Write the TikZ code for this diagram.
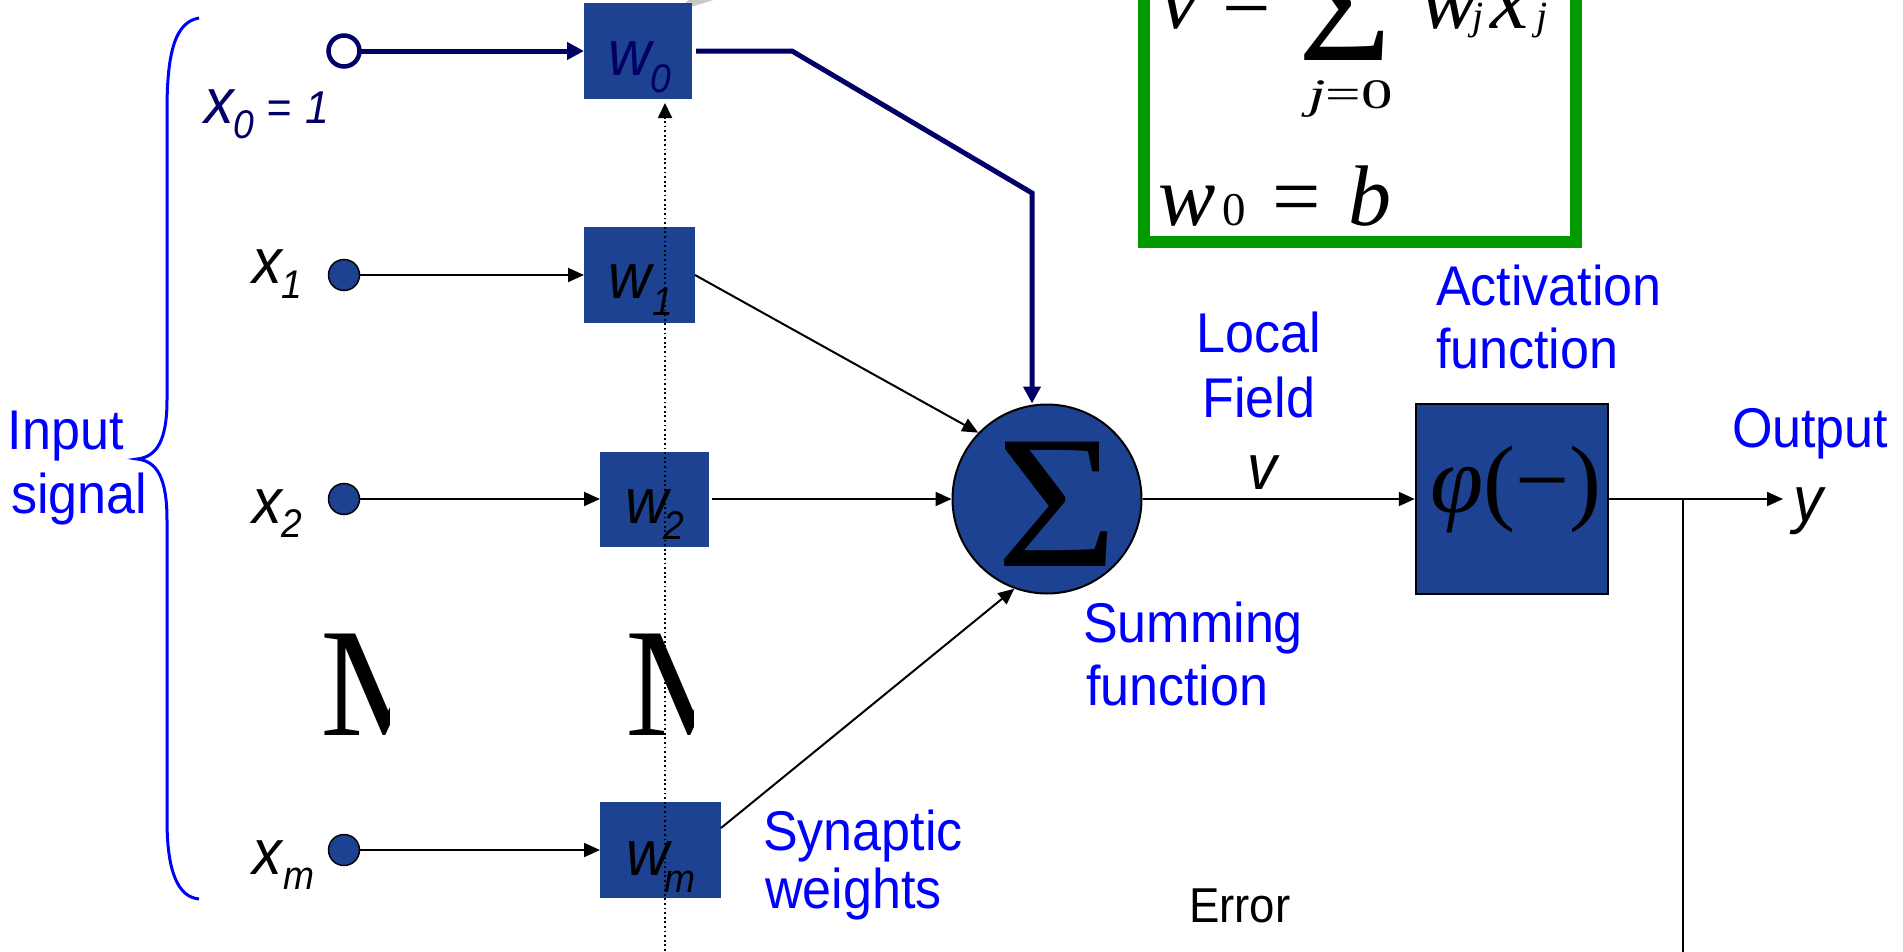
\documentclass[tikz,border=0pt]{standalone}
\usepackage{graphicx}
\usepackage{fontspec}
\setmainfont{Liberation Sans}
\newfontfamily\lab[FakeStretch=0.93]{Liberation Sans}
\newfontfamily\tms{Liberation Serif}
\usetikzlibrary{arrows.meta,calc}
\newcommand\fsz[1]{\fontsize{#1}{#1}\selectfont}

\definecolor{navy}{RGB}{0,0,102}
\definecolor{boxblue}{RGB}{28,66,145}
\definecolor{eqgreen}{RGB}{0,153,0}
\definecolor{pointer}{RGB}{200,200,200}

\begin{document}
\begin{tikzpicture}[x=1pt,y=-1pt,
  txt/.style={inner sep=0pt, outer sep=0pt, anchor=base west},
  blue label/.style={txt, text=blue, font=\lab\fsz{56}},
  sym/.style={txt, font=\lab\itshape\fsz{64}},
  eq/.style={txt, font=\tms\fsz{86}},
  wbox/.style={rectangle, fill=boxblue, inner sep=0pt, outer sep=0pt},
  inode/.style={circle, inner sep=0pt, outer sep=0pt, minimum size=31pt, fill=boxblue, draw=black, line width=1.5pt},
  bias node/.style={circle, inner sep=0pt, outer sep=0pt, minimum size=31pt, fill=white, draw=navy, line width=4.5pt},
  link/.style={line width=2pt, -{Triangle[length=16pt,width=14pt]}},
  bias link/.style={draw=navy, line width=5pt, line join=miter, -{Triangle[length=17pt,width=17pt]}},
  feedback/.style={line width=1.8pt, dash pattern=on 1.8pt off 2.8pt, -{Triangle[length=15pt,width=14pt]}}
]
\useasboundingbox (0,0) rectangle (1903,951);

% formula panel
\draw[eqgreen, line width=12pt, fill=white] (1144,-20) rectangle (1576,242);
\node[eq, font=\tms\itshape\fsz{86}] (fv) at (1160,28) {v};
\node[eq] (feq1) at (1222,28) {=};
\node[txt, font=\tms\fsz{160}] (fsum) at (1298,60) {Σ};
\node[txt, font=\tms\fsz{42}] (flim) at (1308,108) {\scalebox{1.5}[1]{\itshape j\upshape =0}};
\node[eq, font=\tms\itshape\fsz{86}] (fw) at (1420,28) {w};
\node[txt, font=\tms\itshape\fsz{40}] (fj1) at (1472,29) {j};
\node[eq, font=\tms\itshape\fsz{86}] (fx) at (1490,28) {x};
\node[txt, font=\tms\itshape\fsz{40}] (fj2) at (1536,29) {j};
\node[eq, font=\tms\itshape\fsz{86}] (bw) at (1158,225) {w};
\node[txt, font=\tms\fsz{47}] (b0) at (1222,225) {0};
\node[eq] (beq) at (1272,225) {=};
\node[eq, font=\tms\itshape\fsz{86}] (bb) at (1348,225) {b};

% pointer wedge at the top
\fill[pointer] (674,12) -- (690,-1) -- (717,-1) -- cycle;

% input brace
\draw[blue, line width=3pt]
  (199,18) .. controls (176,22) and (167,50) .. (167,110)
  -- (167,400) .. controls (167,440) and (157,457) .. (137,459)
  .. controls (157,461) and (167,478) .. (167,520)
  -- (167,820) .. controls (167,872) and (178,897) .. (199,899);
\node[blue label] (lin1) at (8,449) {Input};
\node[blue label] (lin2) at (11,513) {signal};

% inputs
\node[bias node] (x0) at (344,51) {};
\node[inode] (x1) at (344,275) {};
\node[inode] (x2) at (344,499) {};
\node[inode] (xm) at (344,850) {};

\node[sym, text=navy] (lx0) at (204,123)
  {x\raisebox{-15pt}{\fsz{40}0}\hspace{12pt}{\fsz{46}=}\hspace{14pt}{\fsz{46}1}};
\node[sym] (lx1) at (252,283) {x\raisebox{-15pt}{\fsz{40}1}};
\node[sym] (lx2) at (252,523) {x\raisebox{-14pt}{\fsz{40}2}};
\node[sym] (lxm) at (252,874) {x\hspace{2pt}\raisebox{-15pt}{\fsz{40}m}};

% vertical ellipsis glyphs
\begin{scope}
  \clip (320,600) rectangle (389,760);
  \node[txt, font=\tms\fsz{155}] (dotsx) at (320,735) {M};
\end{scope}
\begin{scope}
  \clip (625,600) rectangle (693,760);
  \node[txt, font=\tms\fsz{155}] (dotsw) at (625,735) {M};
\end{scope}

% synaptic weights
\node[wbox, minimum width=108pt, minimum height=96pt] (w0) at (638,51) {};
\node[wbox, minimum width=111pt, minimum height=96pt] (w1) at (639.5,275) {};
\node[wbox, minimum width=109pt, minimum height=95pt] (w2) at (654.5,499) {};
\node[wbox, minimum width=121pt, minimum height=96pt] (wm) at (660.5,850) {};

\node[sym, text=navy] (lw0) at (608,75) {w\raisebox{-17pt}{\fsz{40}0}};
\node[sym] (lw1) at (608,298) {w\hspace{2pt}\raisebox{-17pt}{\fsz{40}1}};
\node[sym] (lw2) at (625,523) {w\hspace{-4pt}\raisebox{-16pt}{\fsz{40}2}};
\node[sym] (lwm) at (626,875) {w\hspace{-4pt}\raisebox{-17pt}{\fsz{40}m}};

\node[blue label] (lsyn1) at (763,850) {Synaptic};
\node[blue label] (lsyn2) at (765,908) {weights};

% summing junction
\node[circle, fill=boxblue, draw=black, line width=2pt, minimum size=189pt, inner sep=0pt] (sum) at (1047,499) {};
\node[txt, font=\tms\fsz{190}] (sigma) at (996,566) {\scalebox{1.1}[1]{Σ}};
\node[blue label] (lsum1) at (1083,642) {Summing};
\node[blue label] (lsum2) at (1086,705) {function};

% local field
\node[blue label, anchor=base] (lloc1) at (1259,352) {Local};
\node[blue label, anchor=base] (lloc2) at (1259,417) {Field};
\node[sym] (lv) at (1247,489) {v};

% activation
\node[rectangle, fill=boxblue, draw=black, line width=2.5pt, minimum width=192pt, minimum height=190pt, inner sep=0pt] (phi) at (1512,499) {};
\node[txt, font=\tms\fsz{96}] (lphi) at (1430,512) {{\itshape φ}(−)};
\node[blue label] (lact1) at (1436,305) {Activation};
\node[blue label] (lact2) at (1436,368) {function};

% output
\node[blue label] (lout) at (1732,447) {Output};
\node[sym] (ly) at (1793,521) {y};
\coordinate (yend) at (1783,499);
\coordinate (tap) at (1683,499);
\coordinate (tapend) at (1683,960);
\node[txt, font=\lab\fsz{49}] (lerr) at (1189,922) {Error};

% bias path
\coordinate (bend1) at (792,51);
\coordinate (bend2) at (1032,193);
\draw[bias link] (x0) -- (w0);
\draw[bias link] ([xshift=4pt]w0.east) -- (bend1) -- (bend2) -- (bend2 |- sum.north);

% signal paths
\draw[link] (x1) -- (w1);
\draw[link] (x2) -- (w2);
\draw[link] (xm) -- (wm);
\draw[link] (w1.east) -- (sum.136);
\draw[link] ([xshift=3pt]w2.east) -- (sum.west);
\coordinate (wmout) at (721,828);
\draw[link] (wmout) -- (sum.250);
\draw[link] (sum.east) -- (phi.west);
\draw[link] (phi.east) -- (yend);
\draw[line width=2pt] (tap) -- (tapend);

% error feedback
\coordinate (fbstart) at (665,960);
\draw[feedback] (fbstart) -- ($(w0.south -| fbstart)+(0,4)$);
\end{tikzpicture}
\end{document}
